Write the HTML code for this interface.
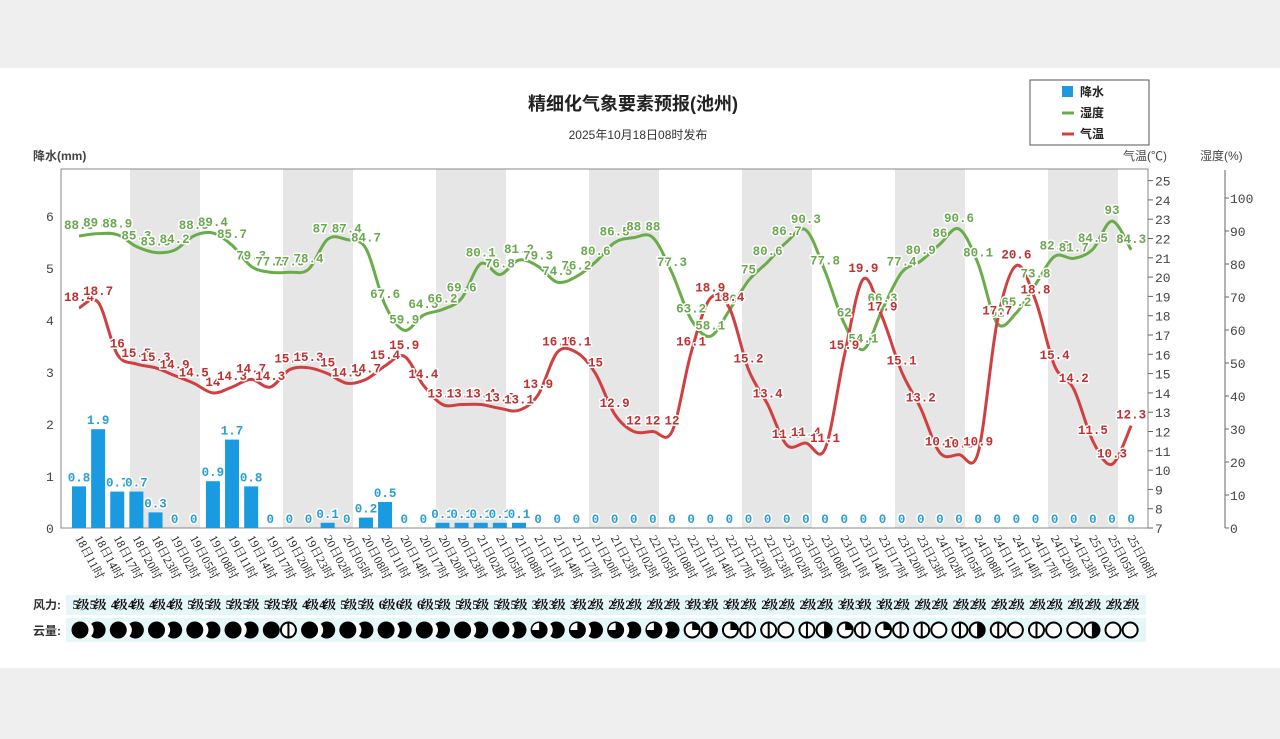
<!DOCTYPE html>
<html><head><meta charset="utf-8">
<style>
html,body{margin:0;padding:0;background:#efefef;}
svg{display:block;}
.t{font-family:"Liberation Mono","Noto Sans CJK SC",monospace;font-weight:bold;font-size:12.5px;paint-order:stroke;stroke:#fff;stroke-width:3px;stroke-linejoin:round;}
.ax{font-family:"Liberation Mono",monospace;font-size:13px;fill:#444;}
.xl{font-family:"Liberation Serif","Noto Serif CJK SC",serif;font-size:12px;fill:#222;}
.wd{font-family:"Liberation Serif","Noto Serif CJK SC",serif;font-size:12.5px;font-weight:bold;fill:#111;letter-spacing:-2px;}
.cj{font-family:"Liberation Sans","Noto Sans CJK SC",sans-serif;}
</style></head><body>
<svg id="s" width="1280" height="739" xmlns="http://www.w3.org/2000/svg">
<rect x="0" y="68" width="1280" height="600" fill="#fff"/>
<g id="bands"></g>
<rect x="61" y="169" width="1087" height="359" fill="none" stroke="#888" stroke-width="1"/>
<text x="633" y="110" text-anchor="middle" class="cj" font-size="18" font-weight="bold" fill="#222">精细化气象要素预报(池州)</text>
<text x="638" y="139" text-anchor="middle" class="cj" font-size="12" fill="#333">2025年10月18日08时发布</text>
<rect x="1030" y="80" width="119" height="65" fill="#fff" stroke="#555"/>
<rect x="1062" y="86" width="11" height="11" fill="#1a9ae0"/>
<text x="1080" y="96" class="cj" font-size="12" font-weight="bold" fill="#222">降水</text>
<line x1="1062" y1="113" x2="1074" y2="113" stroke="#6aac4a" stroke-width="3"/>
<text x="1080" y="117" class="cj" font-size="12" font-weight="bold" fill="#222">湿度</text>
<line x1="1062" y1="134" x2="1074" y2="134" stroke="#d04040" stroke-width="3"/>
<text x="1080" y="138" class="cj" font-size="12" font-weight="bold" fill="#222">气温</text>
<text x="33" y="160" class="cj" font-size="12" font-weight="bold" fill="#444">降水(mm)</text>
<text x="1123" y="160" class="cj" font-size="12" fill="#444">气温(℃)</text>
<text x="1200" y="160" class="cj" font-size="12" fill="#444">湿度(%)</text>
<g id="pa"><text class="ax">0</text><text class="ax">1</text><text class="ax">2</text><text class="ax">3</text><text class="ax">4</text><text class="ax">5</text><text class="ax">6</text></g>
<g id="ta"><text class="ax">7</text><text class="ax">8</text><text class="ax">9</text><text class="ax">10</text><text class="ax">11</text><text class="ax">12</text><text class="ax">13</text><text class="ax">14</text><text class="ax">15</text><text class="ax">16</text><text class="ax">17</text><text class="ax">18</text><text class="ax">19</text><text class="ax">20</text><text class="ax">21</text><text class="ax">22</text><text class="ax">23</text><text class="ax">24</text><text class="ax">25</text></g>
<line x1="1225" y1="170" x2="1225" y2="528" stroke="#666"/>
<g id="ha"><text class="ax">0</text><text class="ax">10</text><text class="ax">20</text><text class="ax">30</text><text class="ax">40</text><text class="ax">50</text><text class="ax">60</text><text class="ax">70</text><text class="ax">80</text><text class="ax">90</text><text class="ax">100</text></g>
<g id="bars"></g>
<path id="hp" fill="none" stroke="#6aac4a" stroke-width="3"/>
<path id="tp" fill="none" stroke="#d04040" stroke-width="3"/>
<g id="pl" fill="#2a9fd0"><text class="t">0.8</text><text class="t">1.9</text><text class="t">0.7</text><text class="t">0.7</text><text class="t">0.3</text><text class="t">0</text><text class="t">0</text><text class="t">0.9</text><text class="t">1.7</text><text class="t">0.8</text><text class="t">0</text><text class="t">0</text><text class="t">0</text><text class="t">0.1</text><text class="t">0</text><text class="t">0.2</text><text class="t">0.5</text><text class="t">0</text><text class="t">0</text><text class="t">0.1</text><text class="t">0.1</text><text class="t">0.1</text><text class="t">0.1</text><text class="t">0.1</text><text class="t">0</text><text class="t">0</text><text class="t">0</text><text class="t">0</text><text class="t">0</text><text class="t">0</text><text class="t">0</text><text class="t">0</text><text class="t">0</text><text class="t">0</text><text class="t">0</text><text class="t">0</text><text class="t">0</text><text class="t">0</text><text class="t">0</text><text class="t">0</text><text class="t">0</text><text class="t">0</text><text class="t">0</text><text class="t">0</text><text class="t">0</text><text class="t">0</text><text class="t">0</text><text class="t">0</text><text class="t">0</text><text class="t">0</text><text class="t">0</text><text class="t">0</text><text class="t">0</text><text class="t">0</text><text class="t">0</text><text class="t">0</text></g>
<g id="hl" fill="#6aa84f"><text class="t">88.5</text><text class="t">89.2</text><text class="t">88.9</text><text class="t">85.3</text><text class="t">83.5</text><text class="t">84.2</text><text class="t">88.5</text><text class="t">89.4</text><text class="t">85.7</text><text class="t">79.3</text><text class="t">77.5</text><text class="t">77.5</text><text class="t">78.4</text><text class="t">87.5</text><text class="t">87.4</text><text class="t">84.7</text><text class="t">67.6</text><text class="t">59.9</text><text class="t">64.5</text><text class="t">66.2</text><text class="t">69.6</text><text class="t">80.1</text><text class="t">76.8</text><text class="t">81.2</text><text class="t">79.3</text><text class="t">74.5</text><text class="t">76.2</text><text class="t">80.6</text><text class="t">86.5</text><text class="t">88</text><text class="t">88</text><text class="t">77.3</text><text class="t">63.2</text><text class="t">58.1</text><text class="t">66</text><text class="t">75</text><text class="t">80.6</text><text class="t">86.7</text><text class="t">90.3</text><text class="t">77.8</text><text class="t">62</text><text class="t">54.1</text><text class="t">66.3</text><text class="t">77.4</text><text class="t">80.9</text><text class="t">86</text><text class="t">90.6</text><text class="t">80.1</text><text class="t">62</text><text class="t">65.2</text><text class="t">73.8</text><text class="t">82.3</text><text class="t">81.7</text><text class="t">84.5</text><text class="t">93</text><text class="t">84.3</text></g>
<g id="tl" fill="#c03030"><text class="t">18.4</text><text class="t">18.7</text><text class="t">16</text><text class="t">15.5</text><text class="t">15.3</text><text class="t">14.9</text><text class="t">14.5</text><text class="t">14</text><text class="t">14.3</text><text class="t">14.7</text><text class="t">14.3</text><text class="t">15.2</text><text class="t">15.3</text><text class="t">15</text><text class="t">14.5</text><text class="t">14.7</text><text class="t">15.4</text><text class="t">15.9</text><text class="t">14.4</text><text class="t">13.4</text><text class="t">13.4</text><text class="t">13.4</text><text class="t">13.2</text><text class="t">13.1</text><text class="t">13.9</text><text class="t">16.1</text><text class="t">16.1</text><text class="t">15</text><text class="t">12.9</text><text class="t">12</text><text class="t">12</text><text class="t">12</text><text class="t">16.1</text><text class="t">18.9</text><text class="t">18.4</text><text class="t">15.2</text><text class="t">13.4</text><text class="t">11.3</text><text class="t">11.4</text><text class="t">11.1</text><text class="t">15.9</text><text class="t">19.9</text><text class="t">17.9</text><text class="t">15.1</text><text class="t">13.2</text><text class="t">10.9</text><text class="t">10.8</text><text class="t">10.9</text><text class="t">17.7</text><text class="t">20.6</text><text class="t">18.8</text><text class="t">15.4</text><text class="t">14.2</text><text class="t">11.5</text><text class="t">10.3</text><text class="t">12.3</text></g>
<g id="xl"><text class="xl">18日11时</text><text class="xl">18日14时</text><text class="xl">18日17时</text><text class="xl">18日20时</text><text class="xl">18日23时</text><text class="xl">19日02时</text><text class="xl">19日05时</text><text class="xl">19日08时</text><text class="xl">19日11时</text><text class="xl">19日14时</text><text class="xl">19日17时</text><text class="xl">19日20时</text><text class="xl">19日23时</text><text class="xl">20日02时</text><text class="xl">20日05时</text><text class="xl">20日08时</text><text class="xl">20日11时</text><text class="xl">20日14时</text><text class="xl">20日17时</text><text class="xl">20日20时</text><text class="xl">20日23时</text><text class="xl">21日02时</text><text class="xl">21日05时</text><text class="xl">21日08时</text><text class="xl">21日11时</text><text class="xl">21日14时</text><text class="xl">21日17时</text><text class="xl">21日20时</text><text class="xl">21日23时</text><text class="xl">22日02时</text><text class="xl">22日05时</text><text class="xl">22日08时</text><text class="xl">22日11时</text><text class="xl">22日14时</text><text class="xl">22日17时</text><text class="xl">22日20时</text><text class="xl">22日23时</text><text class="xl">23日02时</text><text class="xl">23日05时</text><text class="xl">23日08时</text><text class="xl">23日11时</text><text class="xl">23日14时</text><text class="xl">23日17时</text><text class="xl">23日20时</text><text class="xl">23日23时</text><text class="xl">24日02时</text><text class="xl">24日05时</text><text class="xl">24日08时</text><text class="xl">24日11时</text><text class="xl">24日14时</text><text class="xl">24日17时</text><text class="xl">24日20时</text><text class="xl">24日23时</text><text class="xl">25日02时</text><text class="xl">25日05时</text><text class="xl">25日08时</text></g>
<rect x="66" y="595" width="1080" height="20" fill="#e6f7fa"/>
<rect x="66" y="618" width="1080" height="24" fill="#e6f7fa"/>
<text x="33" y="609" class="cj" font-size="12" font-weight="bold" fill="#333">风力:</text>
<text x="33" y="635" class="cj" font-size="12" font-weight="bold" fill="#333">云量:</text>
<g id="wl"><text class="wd">5级</text><text class="wd">5级</text><text class="wd">4级</text><text class="wd">4级</text><text class="wd">4级</text><text class="wd">4级</text><text class="wd">5级</text><text class="wd">5级</text><text class="wd">5级</text><text class="wd">5级</text><text class="wd">5级</text><text class="wd">5级</text><text class="wd">4级</text><text class="wd">4级</text><text class="wd">5级</text><text class="wd">5级</text><text class="wd">6级</text><text class="wd">6级</text><text class="wd">6级</text><text class="wd">5级</text><text class="wd">5级</text><text class="wd">5级</text><text class="wd">5级</text><text class="wd">5级</text><text class="wd">3级</text><text class="wd">3级</text><text class="wd">3级</text><text class="wd">2级</text><text class="wd">2级</text><text class="wd">2级</text><text class="wd">2级</text><text class="wd">2级</text><text class="wd">3级</text><text class="wd">3级</text><text class="wd">3级</text><text class="wd">2级</text><text class="wd">2级</text><text class="wd">2级</text><text class="wd">2级</text><text class="wd">2级</text><text class="wd">3级</text><text class="wd">3级</text><text class="wd">3级</text><text class="wd">2级</text><text class="wd">2级</text><text class="wd">2级</text><text class="wd">2级</text><text class="wd">2级</text><text class="wd">2级</text><text class="wd">2级</text><text class="wd">2级</text><text class="wd">2级</text><text class="wd">2级</text><text class="wd">2级</text><text class="wd">2级</text><text class="wd">2级</text></g>
<g id="cl"></g>
</svg>
<script>
var NS="http://www.w3.org/2000/svg";
function cx(i){return 79+19.13*i;}
function el(t,a,p){var e=document.createElementNS(NS,t);for(var k in a)e.setAttribute(k,a[k]);p.appendChild(e);return e;}
var bands=document.getElementById('bands');
for(var b=0;b<7;b++)el('rect',{x:130+153*b,y:169,width:70,height:359,fill:'#e6e6e6'},bands);
function ty(v){return 528-(v-7)*19.3;}
function hy(v){return 528-v*3.3;}
function py(v){return 528-v*52;}
var pa=document.getElementById('pa').children;
for(var i=0;i<pa.length;i++){pa[i].setAttribute('x',46);pa[i].setAttribute('y',py(i)+5);}
var ta=document.getElementById('ta').children;
for(var i=0;i<ta.length;i++){ta[i].setAttribute('x',1155);ta[i].setAttribute('y',ty(7+i)+5);el('line',{x1:1148,x2:1153,y1:ty(7+i),y2:ty(7+i),stroke:'#666'},document.getElementById('s'));}
var ha=document.getElementById('ha').children;
for(var i=0;i<ha.length;i++){ha[i].setAttribute('x',1230);ha[i].setAttribute('y',hy(i*10)+5);el('line',{x1:1225,x2:1229,y1:hy(i*10),y2:hy(i*10),stroke:'#666'},document.getElementById('s'));}
function vals(id){var c=document.getElementById(id).children,a=[];for(var i=0;i<c.length;i++)a.push(parseFloat(c[i].textContent));return a;}
function path(pts){var d='M'+pts[0][0]+','+pts[0][1];for(var i=0;i<pts.length-1;i++){var p0=pts[Math.max(i-1,0)],p1=pts[i],p2=pts[i+1],p3=pts[Math.min(i+2,pts.length-1)];
var c1x=p1[0]+(p2[0]-p0[0])/6,c1y=p1[1]+(p2[1]-p0[1])/6,c2x=p2[0]-(p3[0]-p1[0])/6,c2y=p2[1]-(p3[1]-p1[1])/6;d+=' C'+c1x+','+c1y+' '+c2x+','+c2y+' '+p2[0]+','+p2[1];}return d;}
var P=vals('pl'),H=vals('hl'),T=vals('tl');
var bars=document.getElementById('bars');
for(var i=0;i<56;i++){if(P[i]>0)el('rect',{x:cx(i)-7,y:py(P[i]),width:14,height:P[i]*52,fill:'#1a9ae0'},bars);}
document.getElementById('hp').setAttribute('d',path(H.map(function(v,i){return[cx(i),hy(v)];})));
document.getElementById('tp').setAttribute('d',path(T.map(function(v,i){return[cx(i),ty(v)];})));
function place(id,f){var c=document.getElementById(id).children;for(var i=0;i<c.length;i++){c[i].setAttribute('x',cx(i));c[i].setAttribute('y',f(i));c[i].setAttribute('text-anchor','middle');}}
place('pl',function(i){return py(P[i])-5;});
place('hl',function(i){return hy(H[i])-7;});
place('tl',function(i){return ty(T[i])-7;});
var xl=document.getElementById('xl').children;
for(var i=0;i<xl.length;i++){var x=cx(i)-4,y=538;xl[i].setAttribute('x',x);xl[i].setAttribute('y',y);xl[i].setAttribute('transform','rotate(62 '+x+' '+y+')');}
var wl=document.getElementById('wl').children;
for(var i=0;i<wl.length;i++){wl[i].setAttribute('x',cx(i)+(i%2?-1:1)*1);wl[i].setAttribute('y',609);wl[i].setAttribute('text-anchor','middle');}
var cl=document.getElementById('cl');
var types=[];
for(var i=0;i<24;i++)types.push(i%2?1:0);
types[11]=5;
for(var i=24;i<32;i++)types.push(i%2?1:2);
var rest=[4,3,4,5,5,6,5,3,4,5,4,5,5,6,5,3,5,6,5,6,6,3];
types=types.concat(rest);
function icon(x,t){var y=630,r=8.5;
 if(t==0){el('circle',{cx:x,cy:y,r:r,fill:'#000'},cl);}
 else if(t==1){el('circle',{cx:x,cy:y,r:r,fill:'#000'},cl);el('circle',{cx:x-12,cy:y,r:r,fill:'#fff'},cl);}
 else if(t==2){el('circle',{cx:x,cy:y,r:r,fill:'#000'},cl);el('path',{d:'M'+x+','+y+' L'+x+','+(y-r+1.5)+' A'+(r-1.5)+','+(r-1.5)+' 0 0 0 '+(x-r+1.5)+','+y+' Z',fill:'#fff'},cl);}
 else if(t==3){el('circle',{cx:x,cy:y,r:r-1,fill:'#fff',stroke:'#000','stroke-width':2},cl);el('path',{d:'M'+x+','+(y-r)+' A'+r+','+r+' 0 0 1 '+x+','+(y+r)+' Z',fill:'#000'},cl);}
 else if(t==4){el('circle',{cx:x,cy:y,r:r-1,fill:'#fff',stroke:'#000','stroke-width':2},cl);el('path',{d:'M'+x+','+y+' L'+x+','+(y-r)+' A'+r+','+r+' 0 0 1 '+(x+r)+','+y+' Z',fill:'#000'},cl);}
 else if(t==5){el('circle',{cx:x,cy:y,r:r-1,fill:'#fff',stroke:'#000','stroke-width':2},cl);el('line',{x1:x,x2:x,y1:y-r,y2:y+r,stroke:'#000','stroke-width':2},cl);}
 else {el('circle',{cx:x,cy:y,r:r-1,fill:'#fff',stroke:'#000','stroke-width':2},cl);}
}
for(var i=0;i<56;i++)if(i%2==1)icon(cx(i)-1,types[i]);
for(var i=0;i<56;i++)if(i%2==0)icon(cx(i)+1,types[i]);
</script>
</body></html>
